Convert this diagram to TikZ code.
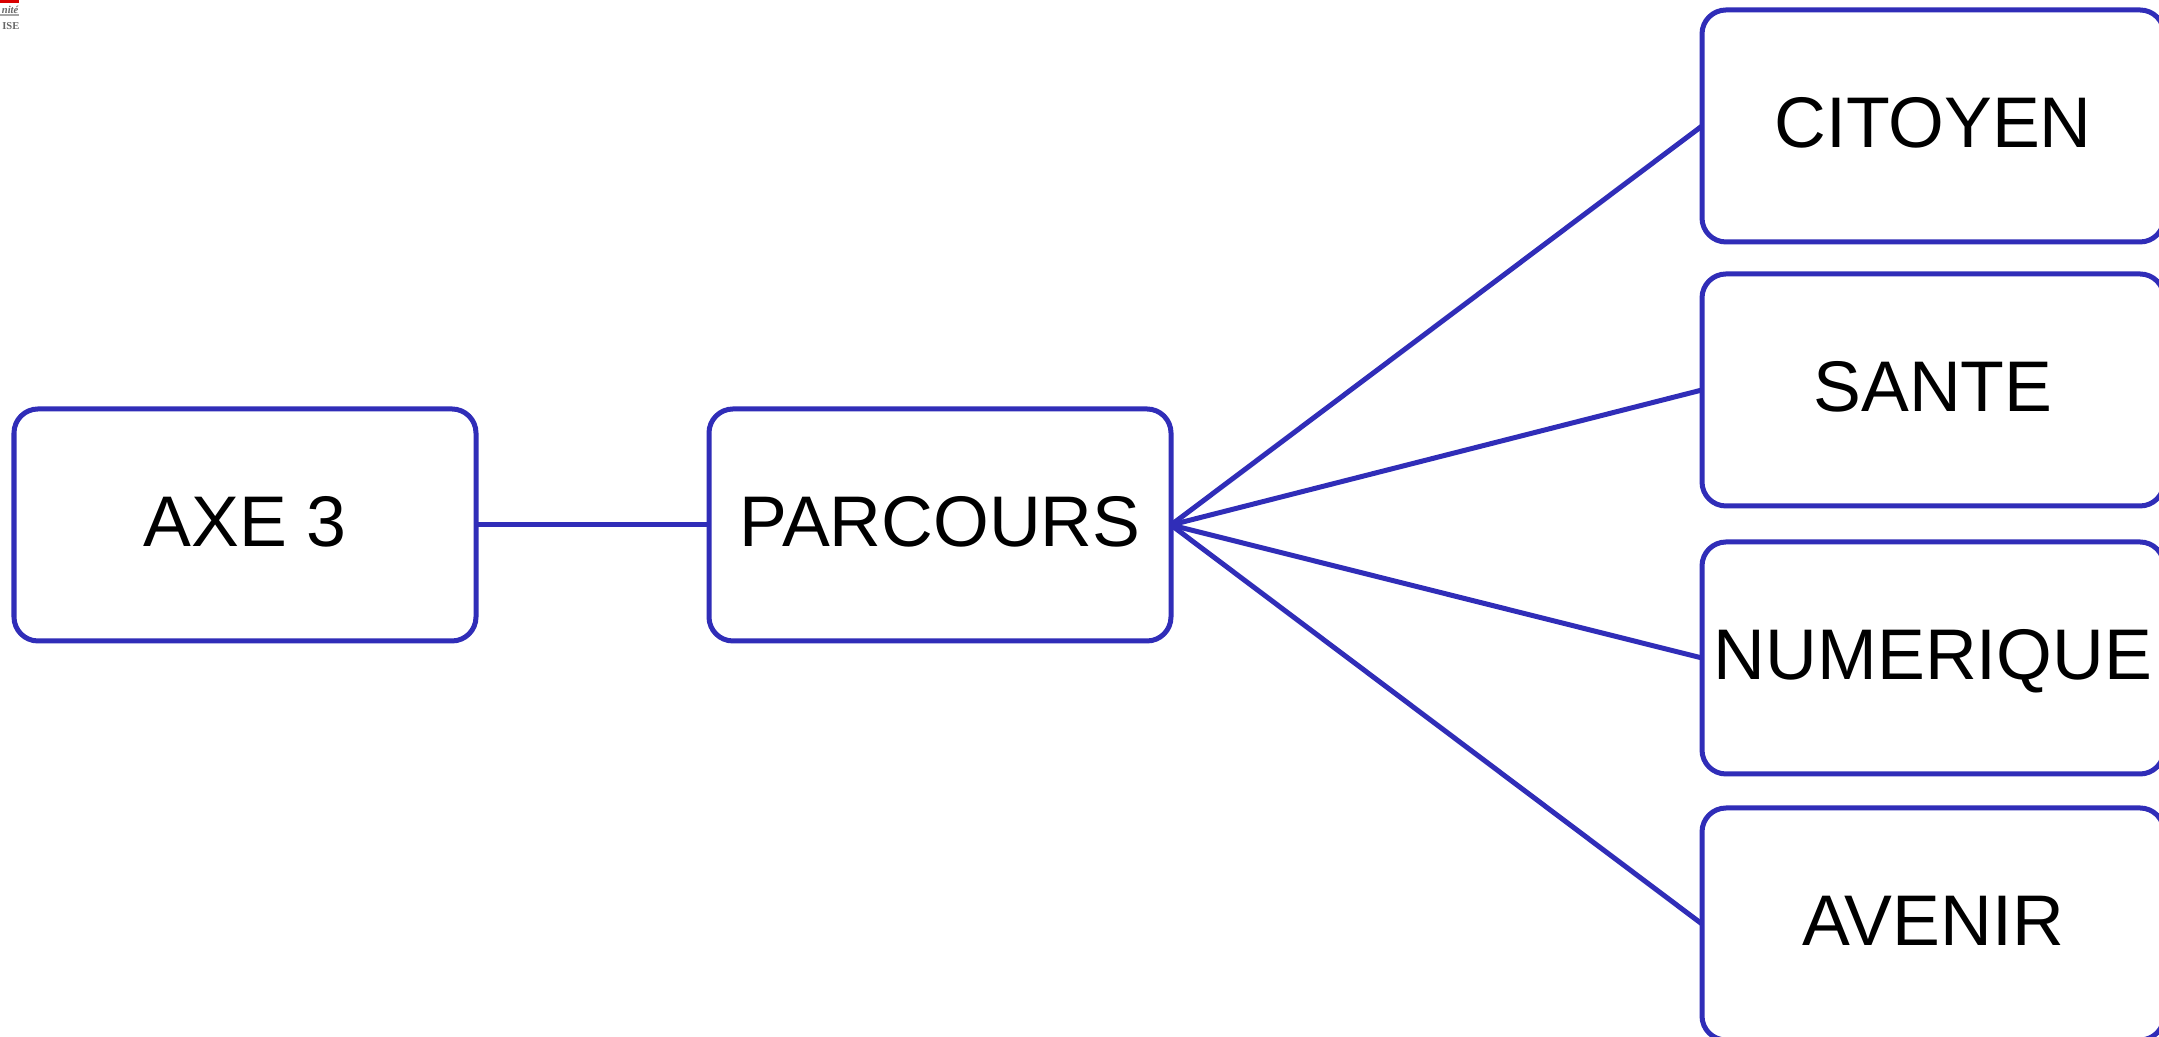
\documentclass[tikz,border=0pt]{standalone}
\usepackage{fontspec}
\setmainfont{Liberation Sans}
\newfontfamily\logofont{Liberation Serif}
\usepackage{tikz}
\definecolor{boxblue}{HTML}{302DB8}
\tikzset{
    box/.style={draw=boxblue, line width=0.05cm, rounded corners=0.24cm, fill=white,
        minimum width=4.62cm, minimum height=2.32cm, inner sep=0pt, outer sep=0pt,
        text height=0.52cm, text depth=0.08cm, font=\fontsize{20.4pt}{24pt}\selectfont},
    link/.style={draw=boxblue, line width=0.05cm},
    logotext/.style={inner sep=0pt, text=black!60, font=\fontsize{3pt}{4pt}\selectfont\logofont\bfseries}
}

\begin{document}
\begin{tikzpicture}
    \useasboundingbox (0,0) rectangle (21.59,10.37);
    \clip (0,0) rectangle (21.59,10.37);
    \fill[white] (0,0) rectangle (21.59,10.37);
    % logo cut by the corner
    \fill[red!85!black] (0,10.34) rectangle (0.19,10.37);
    \node[logotext, anchor=base east] (logotop) at (0.19,10.23) {\itshape nité};
    \node[logotext, anchor=base east] (logobottom) at (0.20,10.07) {ISE};
    \draw[black!35, line width=0.02cm] (0,10.215) -- (0.19,10.215);
    % boxes
    \node[box] (axe) at (2.45,5.12) {AXE 3};
    \node[box] (parcours) at (9.40,5.12) {PARCOURS};
    \node[box] (citoyen) at (19.33,9.11) {CITOYEN};
    \node[box] (sante) at (19.33,6.47) {SANTE};
    \node[box] (numerique) at (19.33,3.79) {NUMERIQUE};
    \node[box] (avenir) at (19.33,1.13) {AVENIR};
    % links
    \draw[link] (axe.east) -- (parcours.west);
    \draw[link] (parcours.east) -- (citoyen.west);
    \draw[link] (parcours.east) -- (sante.west);
    \draw[link] (parcours.east) -- (numerique.west);
    \draw[link] (parcours.east) -- (avenir.west);
\end{tikzpicture}
\end{document}
